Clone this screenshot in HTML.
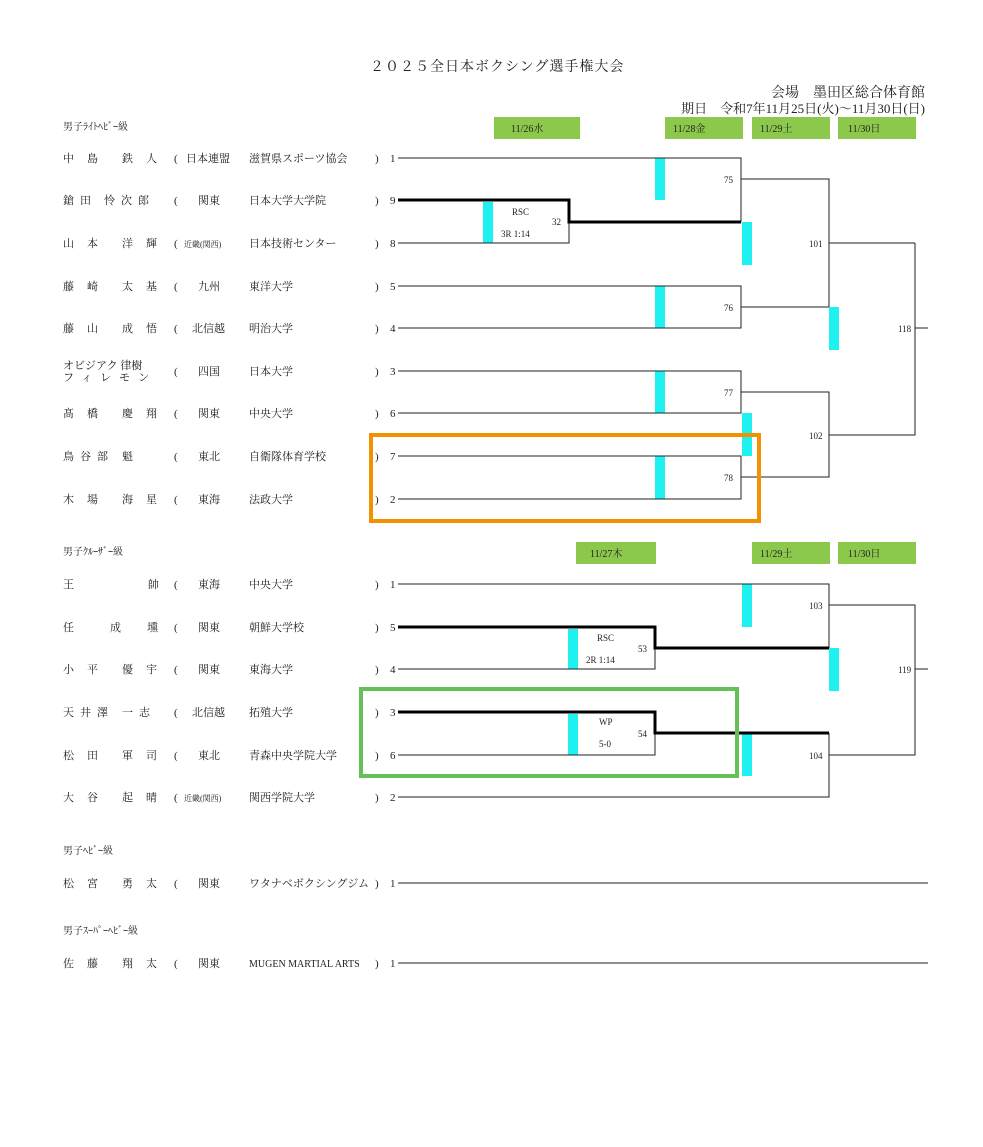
<!DOCTYPE html>
<html><head><meta charset="utf-8"><style>
html,body{margin:0;padding:0;background:#fff;}
svg text{font-family:"Liberation Serif","Noto Serif CJK SC","Noto Sans CJK JP",serif;fill:#222;}
</style></head><body>
<svg width="983" height="1142" viewBox="0 0 983 1142" xmlns="http://www.w3.org/2000/svg">
<text x="370" y="71" font-size="14" letter-spacing="1">２０２５全日本ボクシング選手権大会</text>
<text x="925" y="97" font-size="14" text-anchor="end">会場　墨田区総合体育館</text>
<text x="925" y="113" font-size="13" text-anchor="end">期日　令和7年11月25日(火)～11月30日(日)</text>

<!-- date boxes -->
<g fill="#8cc84b">
<rect x="494" y="117" width="86" height="22"/><rect x="665" y="117" width="78" height="22"/><rect x="752" y="117" width="78" height="22"/><rect x="838" y="117" width="78" height="22"/>
<rect x="576" y="542" width="80" height="22"/><rect x="752" y="542" width="78" height="22"/><rect x="838" y="542" width="78" height="22"/>
</g>
<g font-size="10">
<text x="511" y="132">11/26水</text><text x="673" y="132">11/28金</text><text x="760" y="132">11/29土</text><text x="848" y="132">11/30日</text>
<text x="590" y="557">11/27木</text><text x="760" y="557">11/29土</text><text x="848" y="557">11/30日</text>
</g>

<g font-size="10">
<text x="63" y="130">男子ﾗｲﾄﾍﾋﾞｰ級</text>
<text x="63" y="555">男子ｸﾙｰｻﾞｰ級</text>
<text x="63" y="854">男子ﾍﾋﾞｰ級</text>
<text x="63" y="934">男子ｽｰﾊﾟｰﾍﾋﾞｰ級</text>
</g>

<g font-size="11">
<!-- light heavy -->
<text x="63" y="162" letter-spacing="13">中島</text><text x="122" y="162" letter-spacing="13">鉄人</text><text x="174" y="162">(</text><text x="186" y="162">日本連盟</text><text x="249" y="162">滋賀県スポーツ協会</text><text x="375" y="162">)</text><text x="390" y="162">1</text>
<text x="63" y="204" letter-spacing="6">鎗田</text><text x="104" y="204" letter-spacing="6">怜次郎</text><text x="174" y="204">(</text><text x="198" y="204">関東</text><text x="249" y="204">日本大学大学院</text><text x="375" y="204">)</text><text x="390" y="204">9</text>
<text x="63" y="247" letter-spacing="13">山本</text><text x="122" y="247" letter-spacing="13">洋輝</text><text x="174" y="247">(</text><text x="184" y="247" font-size="8">近畿(関西)</text><text x="249" y="247">日本技術センター</text><text x="375" y="247">)</text><text x="390" y="247">8</text>
<text x="63" y="290" letter-spacing="13">藤崎</text><text x="122" y="290" letter-spacing="13">太基</text><text x="174" y="290">(</text><text x="198" y="290">九州</text><text x="249" y="290">東洋大学</text><text x="375" y="290">)</text><text x="390" y="290">5</text>
<text x="63" y="332" letter-spacing="13">藤山</text><text x="122" y="332" letter-spacing="13">成悟</text><text x="174" y="332">(</text><text x="192" y="332">北信越</text><text x="249" y="332">明治大学</text><text x="375" y="332">)</text><text x="390" y="332">4</text>
<text x="63" y="369">オビジアク 律樹</text><text x="63" y="381" letter-spacing="8">フィレモン</text><text x="174" y="375">(</text><text x="198" y="375">四国</text><text x="249" y="375">日本大学</text><text x="375" y="375">)</text><text x="390" y="375">3</text>
<text x="63" y="417" letter-spacing="13">髙橋</text><text x="122" y="417" letter-spacing="13">慶翔</text><text x="174" y="417">(</text><text x="198" y="417">関東</text><text x="249" y="417">中央大学</text><text x="375" y="417">)</text><text x="390" y="417">6</text>
<text x="63" y="460" letter-spacing="6">鳥谷部</text><text x="122" y="460">魁</text><text x="174" y="460">(</text><text x="198" y="460">東北</text><text x="249" y="460">自衛隊体育学校</text><text x="375" y="460">)</text><text x="390" y="460">7</text>
<text x="63" y="503" letter-spacing="13">木場</text><text x="122" y="503" letter-spacing="13">海星</text><text x="174" y="503">(</text><text x="198" y="503">東海</text><text x="249" y="503">法政大学</text><text x="375" y="503">)</text><text x="390" y="503">2</text>
<!-- cruiser -->
<text x="63" y="588">王</text><text x="148" y="588">帥</text><text x="174" y="588">(</text><text x="198" y="588">東海</text><text x="249" y="588">中央大学</text><text x="375" y="588">)</text><text x="390" y="588">1</text>
<text x="63" y="631">任</text><text x="110" y="631" letter-spacing="26">成壎</text><text x="174" y="631">(</text><text x="198" y="631">関東</text><text x="249" y="631">朝鮮大学校</text><text x="375" y="631">)</text><text x="390" y="631">5</text>
<text x="63" y="673" letter-spacing="13">小平</text><text x="122" y="673" letter-spacing="13">優宇</text><text x="174" y="673">(</text><text x="198" y="673">関東</text><text x="249" y="673">東海大学</text><text x="375" y="673">)</text><text x="390" y="673">4</text>
<text x="63" y="716" letter-spacing="6">天井澤</text><text x="122" y="716" letter-spacing="6">一志</text><text x="174" y="716">(</text><text x="192" y="716">北信越</text><text x="249" y="716">拓殖大学</text><text x="375" y="716">)</text><text x="390" y="716">3</text>
<text x="63" y="759" letter-spacing="13">松田</text><text x="122" y="759" letter-spacing="13">軍司</text><text x="174" y="759">(</text><text x="198" y="759">東北</text><text x="249" y="759">青森中央学院大学</text><text x="375" y="759">)</text><text x="390" y="759">6</text>
<text x="63" y="801" letter-spacing="13">大谷</text><text x="122" y="801" letter-spacing="13">起晴</text><text x="174" y="801">(</text><text x="184" y="801" font-size="8">近畿(関西)</text><text x="249" y="801">関西学院大学</text><text x="375" y="801">)</text><text x="390" y="801">2</text>
<!-- heavy -->
<text x="63" y="887" letter-spacing="13">松宮</text><text x="122" y="887" letter-spacing="13">勇太</text><text x="174" y="887">(</text><text x="198" y="887">関東</text><text x="249" y="887">ワタナベボクシングジム</text><text x="375" y="887">)</text><text x="390" y="887">1</text>
<text x="63" y="967" letter-spacing="13">佐藤</text><text x="122" y="967" letter-spacing="13">翔太</text><text x="174" y="967">(</text><text x="198" y="967">関東</text><text x="249" y="967" font-size="10">MUGEN MARTIAL ARTS</text><text x="375" y="967">)</text><text x="390" y="967">1</text>
</g>

<!-- cyan bars -->
<g fill="#1ff0f0">
<rect x="655" y="158" width="10" height="42"/><rect x="483" y="202" width="10" height="41"/><rect x="742" y="222" width="10" height="43"/>
<rect x="655" y="286" width="10" height="42"/><rect x="829" y="307" width="10" height="43"/>
<rect x="655" y="371" width="10" height="42"/><rect x="742" y="413" width="10" height="43"/><rect x="655" y="456" width="10" height="43"/>
<rect x="742" y="584" width="10" height="43"/><rect x="568" y="629" width="10" height="40"/><rect x="829" y="648" width="10" height="43"/>
<rect x="568" y="714" width="10" height="41"/><rect x="742" y="733" width="10" height="43"/>
</g>

<!-- thin lines -->
<g stroke="#222" stroke-width="1" fill="none">
<path d="M398 158H741V222M398 243H569V222"/>
<path d="M741 179H829V243M829 307V243H915"/>
<path d="M398 286H741V328H398M741 307H829"/>
<path d="M398 371H741V413H398M741 392H829V477H741V499H398M398 456H741V477"/>
<path d="M829 435H915V243M915 328H928"/>
<path d="M398 584H829V605M829 648V605H915V755H829V797H398M829 733V755M915 669H928"/>
<path d="M398 669H655V648M398 755H655V733"/>
<path d="M398 883H928M398 963H928"/>
</g>
<!-- thick lines -->
<g stroke="#000" stroke-width="3" fill="none">
<path d="M398 200H569V222H741"/>
<path d="M398 627H655V648H829"/>
<path d="M398 712H655V733H829"/>
</g>

<g font-size="9">
<text x="512" y="215">RSC</text><text x="501" y="237">3R 1:14</text><text x="552" y="225">32</text>
<text x="724" y="183">75</text><text x="724" y="311">76</text><text x="724" y="396">77</text><text x="724" y="481">78</text>
<text x="809" y="247">101</text><text x="809" y="439">102</text><text x="898" y="332">118</text>
<text x="597" y="641">RSC</text><text x="586" y="663">2R 1:14</text><text x="638" y="652">53</text>
<text x="599" y="725">WP</text><text x="599" y="747">5-0</text><text x="638" y="737">54</text>
<text x="809" y="609">103</text><text x="809" y="759">104</text><text x="898" y="673">119</text>
</g>

<rect x="371" y="435" width="388" height="86" fill="none" stroke="#f39200" stroke-width="4"/>
<rect x="361" y="689" width="376" height="87" fill="none" stroke="#66c05a" stroke-width="4"/>
</svg>
</body></html>
